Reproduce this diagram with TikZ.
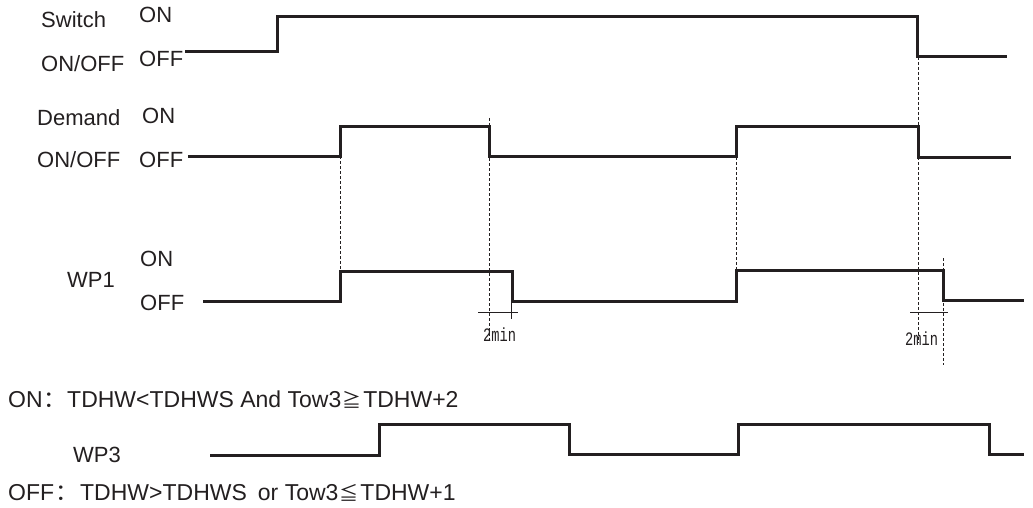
\documentclass[tikz,border=0pt]{standalone}
\usepackage{fontspec}
\setmainfont{Liberation Sans}
\newfontfamily\cjk{Noto Sans CJK SC}
\newfontfamily\monof{Liberation Mono}
\definecolor{ink}{RGB}{35,31,32}
\newcommand{\wcolon}[1]{\makebox[#1][l]{\hspace{1pt}\cjk ：}}
\newcommand{\wsym}[1]{\makebox[22pt][c]{\fontsize{19}{22}\cjk #1}}
\tikzset{
  lbl/.style={anchor=base west,inner sep=0pt,text=ink,font=\fontsize{22}{26}\selectfont},
  cond/.style={anchor=base west,inner sep=0pt,text=ink,font=\fontsize{23}{27}\selectfont},
  dimlbl/.style={anchor=base west,inner sep=0pt,text=ink,font=\fontsize{19}{22}\monof},
  wave/.style={draw=ink,line width=3pt,line join=miter},
  guide/.style={draw=ink,line width=1pt,dash pattern=on 3pt off 2pt},
  dimline/.style={draw=ink,line width=1pt}
}
\begin{document}
\begin{tikzpicture}[x=1pt,y=-1pt]
\useasboundingbox (0,0) rectangle (1033,508);
% labels
\node[lbl] (swname) at (41,28) {Switch};
\node[lbl] (swon) at (139,23) {ON};
\node[lbl] (swonoff) at (41,72) {ON/OFF};
\node[lbl] (swoff) at (139,67) {OFF};
\node[lbl] (dmname) at (37,125) {Demand};
\node[lbl] (dmon) at (142,124) {ON};
\node[lbl] (dmonoff) at (37,167) {ON/OFF};
\node[lbl] (dmoff) at (139,167) {OFF};
\node[lbl] (wp1name) at (67,287) {WP1};
\node[lbl] (wp1on) at (140,266) {ON};
\node[lbl] (wp1off) at (140,310) {OFF};
\node[lbl] (wp3name) at (73,462) {WP3};
\node[cond] (oncond) at (8,407) {ON\wcolon{24.5pt}TDHW<TDHWS And Tow3\wsym{≧}TDHW+2};
\node[cond] (offcond) at (8,500) {OFF\wcolon{26pt}TDHW>TDHWS\hspace{11pt}or Tow3\wsym{≦}TDHW+1};
\node[dimlbl] (d1) at (483,341) {\scalebox{0.72}[1]{2min}};
\node[dimlbl] (d2) at (905,345) {\scalebox{0.72}[1]{2min}};
% guide lines
\draw[guide] (340,126) -- (340,271);
\draw[guide] (489,118) -- (489,342);
\draw[guide] (736,127) -- (736,270);
\draw[guide] (918,57) -- (918,343);
\draw[guide] (943,258) -- (943,365);
% dimension marks
\draw[dimline] (478,312) -- (518,312);
\draw[dimline] (511,302) -- (511,319);
\draw[dimline] (910,312) -- (948,312);
% waveforms
\draw[wave] (185,52) -- (277,52) -- (277,17) -- (917,17) -- (917,57) -- (1007,57);
\draw[wave] (188,156) -- (340,156) -- (340,127) -- (489,127) -- (489,156) -- (736,156) -- (736,127) -- (918,127) -- (918,157) -- (1011,157);
\draw[wave] (203,301) -- (340,301) -- (340,271) -- (512,271) -- (512,301) -- (736,301) -- (736,270) -- (943,270) -- (943,300) -- (1024,300);
\draw[wave] (210,455) -- (379,455) -- (379,424) -- (569,424) -- (569,454) -- (738,454) -- (738,424) -- (989,424) -- (989,454) -- (1024,454);
\end{tikzpicture}
\end{document}
